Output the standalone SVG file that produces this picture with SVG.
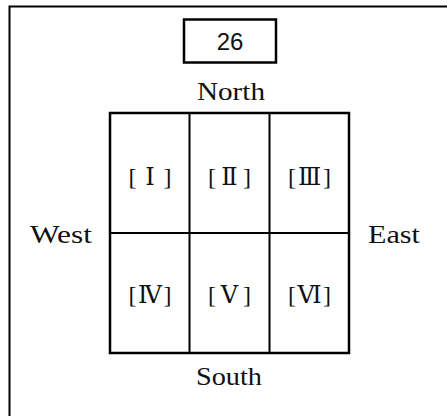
<svg xmlns="http://www.w3.org/2000/svg" width="447" height="416" viewBox="0 0 447 416">
<style>
.ln{stroke:#000;fill:none}
.lb{font-family:"Liberation Serif","DejaVu Serif",serif;font-size:24px;fill:#111;text-anchor:middle}
.dir{font-family:"Liberation Serif","DejaVu Serif",serif;font-size:26px;fill:#111;text-anchor:middle}
</style>
<rect width="447" height="416" fill="#fff"/>
<g id="frame"><path class="ln" stroke-width="2" d="M9.5 430 V6.5 H460"/></g>
<g id="badge">
<rect class="ln" stroke-width="2.5" x="184" y="19.5" width="92" height="43"/>
<text x="230" y="50" font-family="Liberation Sans,Arial,sans-serif" font-size="24" fill="#111" text-anchor="middle">26</text>
</g>
<g id="grid">
<rect class="ln" stroke-width="2.5" x="110" y="113" width="239" height="240"/>
<path class="ln" stroke-width="2" d="M189.5 113V353M269.5 113V353M110 233H349"/>
</g>
<g id="north"><text class="dir" x="231" y="100" textLength="68" lengthAdjust="spacingAndGlyphs">North</text></g>
<g id="south"><text class="dir" x="229" y="385" textLength="66" lengthAdjust="spacingAndGlyphs">South</text></g>
<g id="west"><text class="dir" x="61" y="243" textLength="62" lengthAdjust="spacingAndGlyphs">West</text></g>
<g id="east"><text class="dir" x="394" y="243" textLength="52" lengthAdjust="spacingAndGlyphs">East</text></g>
<g id="c1"><text class="lb" x="150" y="185" textLength="43">[ Ⅰ ]</text></g>
<g id="c2"><text class="lb" x="229.5" y="185" textLength="43">[ Ⅱ ]</text></g>
<g id="c3"><text class="lb" x="309.5" y="185" textLength="43">[Ⅲ]</text></g>
<g id="c4"><text class="lb" x="150" y="303" textLength="43">[Ⅳ]</text></g>
<g id="c5"><text class="lb" x="229.5" y="303" textLength="43">[ Ⅴ ]</text></g>
<g id="c6"><text class="lb" x="309.5" y="303" textLength="43">[Ⅵ]</text></g>
</svg>
